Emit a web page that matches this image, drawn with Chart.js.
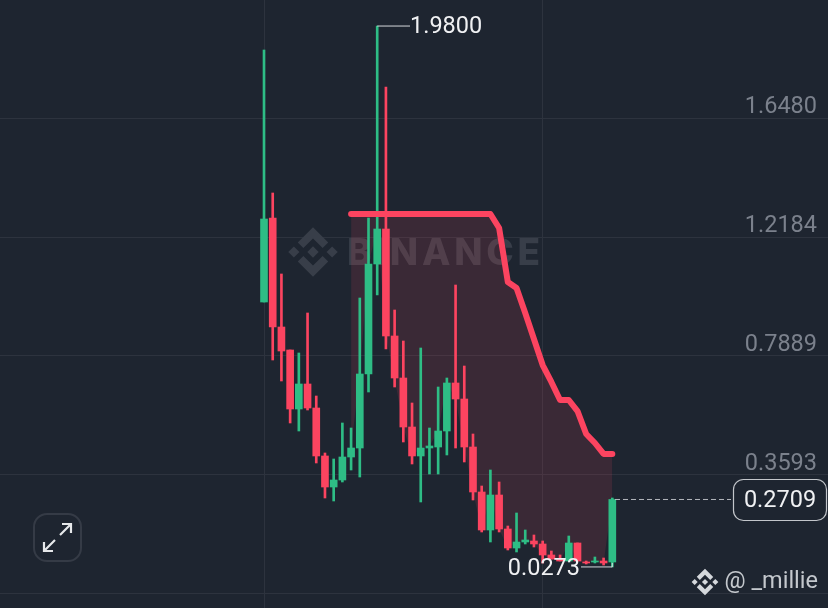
<!DOCTYPE html>
<html>
<head>
<meta charset="utf-8">
<style>
  html, body { margin: 0; padding: 0; background: #1e2530; }
  canvas { display: block; }
</style>
<script src="https://cdn.jsdelivr.net/npm/chart.js@4/dist/chart.umd.min.js"></script>
</head>
<body>
<canvas id="myChart" width="828" height="608"></canvas>
<script>
// candles
const opens  = [0.9838,1.2870,0.8935,0.8105,0.5975,0.6878,0.6011,0.4279,0.3159,0.3412,0.4242,0.4567,0.7239,1.1210,1.2473,0.8611,0.7094,0.5325,0.4279,0.4567,0.4603,0.5181,0.6914,0.6336,0.4603,0.2979,0.1607,0.2870,0.1643,0.0957,0.1174,0.1210,0.1102,0.0705,0.0560,0.0488,0.1138,0.0452,0.0452,0.0488,0.0452];
const highs  = [1.8935,1.3773,1.0849,0.8105,0.7997,0.9441,0.6444,0.4387,0.4170,0.5470,0.5289,0.9982,1.2870,1.9800,1.7600,0.9549,0.8430,0.6192,0.8177,0.5289,0.6769,0.7094,1.0451,0.7527,0.5073,0.3195,0.3773,0.3340,0.1751,0.2221,0.1607,0.1427,0.1210,0.0849,0.0705,0.1390,0.1138,0.0488,0.0632,0.0596,0.2762];
const lows   = [0.9838,0.7744,0.6986,0.5470,0.5181,0.5939,0.4026,0.2762,0.2654,0.3340,0.3773,0.3520,0.6589,1.0091,0.8141,0.6769,0.4784,0.3990,0.2618,0.3629,0.3629,0.4315,0.4567,0.4062,0.2690,0.1535,0.1174,0.1535,0.0885,0.0813,0.1102,0.0993,0.0416,0.0560,0.0488,0.0488,0.0488,0.0380,0.0416,0.0343,0.0273];
const closes = [1.2834,0.8935,0.8069,0.5975,0.6878,0.6011,0.4279,0.3159,0.3412,0.4242,0.4567,0.7239,1.1210,1.2473,0.8611,0.7094,0.5325,0.4279,0.4567,0.4640,0.5181,0.6914,0.6336,0.4603,0.2979,0.1607,0.2870,0.1643,0.0957,0.1174,0.1246,0.1102,0.0705,0.0560,0.0488,0.1138,0.0488,0.0416,0.0488,0.0416,0.2709];

// thick red line, starts at candle 10
const trailStart = 10;
const trail = [1.3015,1.3015,1.3015,1.3015,1.3015,1.3015,1.3015,1.3015,1.3015,1.3015,1.3015,1.3015,1.3015,1.3015,1.3015,1.3015,1.3015,1.2509,1.0560,1.0343,0.9441,0.8502,0.7563,0.6950,0.6300,0.6300,0.5902,0.5073,0.4748,0.4351,0.4351];

const priceTicks = [-0.0702,0.3593,0.7889,1.2184,1.6480];
const timeTicks = [0,32];
const highLabel = 1.98;
const lowLabel = 0.0273;
const lastPrice = 0.2709;

const GREEN = '#2ebd85';
const RED = '#fc4460';
const FONT = 'Roboto, sans-serif';

const candleColors = opens.map((o,i) => closes[i] >= o ? GREEN : RED);

// binance mark, 126 unit box
const logoShapes = [
  [[38.73,53.2],[63,28.93],[87.28,53.21],[101.4,39.09],[63,0.68],[24.61,39.08]],
  [[0.67,63],[14.79,48.88],[28.91,63],[14.79,77.12]],
  [[38.73,72.8],[63,97.07],[87.28,72.79],[101.4,86.9],[63,125.32],[24.61,86.92]],
  [[97.09,63],[111.21,48.88],[125.33,63],[111.21,77.12]],
  [[77.32,63],[63,48.68],[48.68,63],[63,77.32]]
];

function drawLogo(ctx, cx, cy, size, color) {
  let k = size/126;
  ctx.fillStyle = color;
  logoShapes.forEach(shape => {
    ctx.beginPath();
    shape.forEach((p,i) => {
      let px = cx + (p[0]-63)*k, py = cy + (p[1]-63)*k;
      if (i==0) ctx.moveTo(px,py); else ctx.lineTo(px,py);
    });
    ctx.closePath();
    ctx.fill();
  });
}

function arrow(ctx, x1, y1, x2, y2) {
  let a = Math.atan2(y2-y1, x2-x1), h = 9;
  ctx.beginPath();
  ctx.moveTo(x1,y1);
  ctx.lineTo(x2,y2);
  ctx.moveTo(x2 - h*Math.cos(a-0.785), y2 - h*Math.sin(a-0.785));
  ctx.lineTo(x2,y2);
  ctx.lineTo(x2 - h*Math.cos(a+0.785), y2 - h*Math.sin(a+0.785));
  ctx.stroke();
}

// watermark goes under the candles
const watermark = {
  id: 'watermark',
  beforeDatasetsDraw(chart) {
    const ctx = chart.ctx;
    ctx.save();
    drawLogo(ctx, 313, 252, 50, '#383e49');
    ctx.fillStyle = '#383e49';
    ctx.font = '800 37px Inter, sans-serif';
    ctx.letterSpacing = '3.8px';
    ctx.textAlign = 'left';
    ctx.textBaseline = 'alphabetic';
    ctx.fillText('BINANCE', 347, 265);
    ctx.restore();
  }
};

// price callouts, button and handle
const overlay = {
  id: 'overlay',
  afterDatasetsDraw(chart) {
    const ctx = chart.ctx, x = chart.scales.x, y = chart.scales.y;
    ctx.save();
    ctx.textBaseline = 'middle';
    ctx.font = '23.5px ' + FONT;

    // highest price
    let hx = x.getPixelForValue(13), hy = y.getPixelForValue(highLabel);
    ctx.strokeStyle = '#d5d8dc';
    ctx.lineWidth = 1;
    ctx.beginPath();
    ctx.moveTo(hx, hy);
    ctx.lineTo(410, hy);
    ctx.stroke();
    ctx.fillStyle = '#f0f1f3';
    ctx.textAlign = 'left';
    ctx.fillText(highLabel.toFixed(4), 410, hy+1);

    // lowest price
    let lx = x.getPixelForValue(40), ly = y.getPixelForValue(lowLabel);
    ctx.beginPath();
    ctx.moveTo(lx, ly-4);
    ctx.lineTo(lx, ly);
    ctx.lineTo(581, ly);
    ctx.stroke();
    ctx.fillStyle = '#f0f1f3';
    ctx.textAlign = 'right';
    ctx.fillText(lowLabel.toFixed(4), 580, ly+2);

    // last price
    let py = y.getPixelForValue(lastPrice);
    ctx.setLineDash([5,3]);
    ctx.strokeStyle = '#b4b8be';
    ctx.beginPath();
    ctx.moveTo(615, py);
    ctx.lineTo(731, py);
    ctx.stroke();
    ctx.setLineDash([]);
    ctx.strokeStyle = '#c3c6cb';
    ctx.lineWidth = 1.2;
    ctx.fillStyle = '#1e2530';
    ctx.beginPath();
    ctx.roundRect(733.5, 479.5, 93, 41, 10);
    ctx.fill();
    ctx.stroke();
    ctx.fillStyle = '#f0f1f3';
    ctx.textAlign = 'center';
    ctx.fillText(lastPrice.toFixed(4), 780, 501);

    // expand button
    ctx.strokeStyle = '#353b46';
    ctx.lineWidth = 2;
    ctx.beginPath();
    ctx.roundRect(34, 514, 47, 47, 13);
    ctx.stroke();
    ctx.strokeStyle = '#e6e8ea';
    ctx.lineWidth = 2.2;
    arrow(ctx, 60, 535, 71, 524);
    arrow(ctx, 55, 540, 44, 551);

    // handle
    drawLogo(ctx, 705, 582, 27, '#d5d8dc');
    ctx.font = '23.5px ' + FONT;
    ctx.fillStyle = '#c4c8cd';
    ctx.textAlign = 'right';
    ctx.fillText('@ _millie', 818, 582);
    ctx.restore();
  }
};

// keep the plot area on the full canvas
function noPadding(s) {
  s.paddingTop = 0;
  s.paddingBottom = 0;
  s.paddingLeft = 0;
  s.paddingRight = 0;
}

new Chart('myChart', {
  type: 'bar',
  data: {
    datasets: [
      { // trail top edge of the shade
        type: 'line',
        order: 5,
        data: trail.map((v,k) => ({x: k+trailStart, y: v})),
        borderWidth: 0,
        pointRadius: 0,
        tension: 0,
        fill: {target: 1},
        backgroundColor: 'rgba(252,68,96,0.125)'
      },
      { // close prices, bottom edge of the shade
        type: 'line',
        order: 6,
        data: closes.slice(trailStart).map((v,k) => ({x: k+trailStart, y: v})),
        borderWidth: 0,
        pointRadius: 0,
        tension: 0,
        fill: false
      },
      { // wicks
        order: 3,
        data: lows.map((l,i) => ({x: i, y: [l, highs[i]]})),
        backgroundColor: candleColors,
        barThickness: 2,
        grouped: false
      },
      { // bodies
        order: 2,
        data: opens.map((o,i) => ({x: i, y: [o, closes[i]]})),
        backgroundColor: candleColors,
        barThickness: 7,
        grouped: false
      },
      { // trail line
        type: 'line',
        order: 1,
        data: trail.map((v,k) => ({x: k+trailStart, y: v})),
        borderColor: '#fc4460',
        borderWidth: 6,
        borderCapStyle: 'round',
        borderJoinStyle: 'round',
        pointRadius: 0,
        tension: 0,
        fill: false
      }
    ]
  },
  options: {
    responsive: false,
    animation: false,
    layout: {padding: 0},
    plugins: {legend: {display: false}, tooltip: {enabled: false}},
    scales: {
      x: {
        type: 'linear',
        offset: false,
        min: -30.32,
        max: 64.77,
        border: {display: false},
        grid: {color: '#2d333e', offset: false, drawTicks: false},
        ticks: {display: false},
        afterBuildTicks: s => { s.ticks = timeTicks.map(v => ({value: v})); },
        afterFit: s => { noPadding(s); s.height = 0; }
      },
      y: {
        type: 'linear',
        position: 'right',
        min: -0.1209,
        max: 2.074,
        border: {display: false},
        grid: {color: '#2d333e', drawTicks: false},
        ticks: {
          mirror: true,
          padding: -11,
          labelOffset: -11,
          color: '#7b818c',
          font: {family: FONT, size: 23.5},
          callback: v => v > 0 ? v.toFixed(4) : ''
        },
        afterBuildTicks: s => { s.ticks = priceTicks.map(v => ({value: v})); },
        afterFit: s => { noPadding(s); s.width = 0; }
      }
    }
  },
  plugins: [watermark, overlay]
});
</script>
</body>
</html>
